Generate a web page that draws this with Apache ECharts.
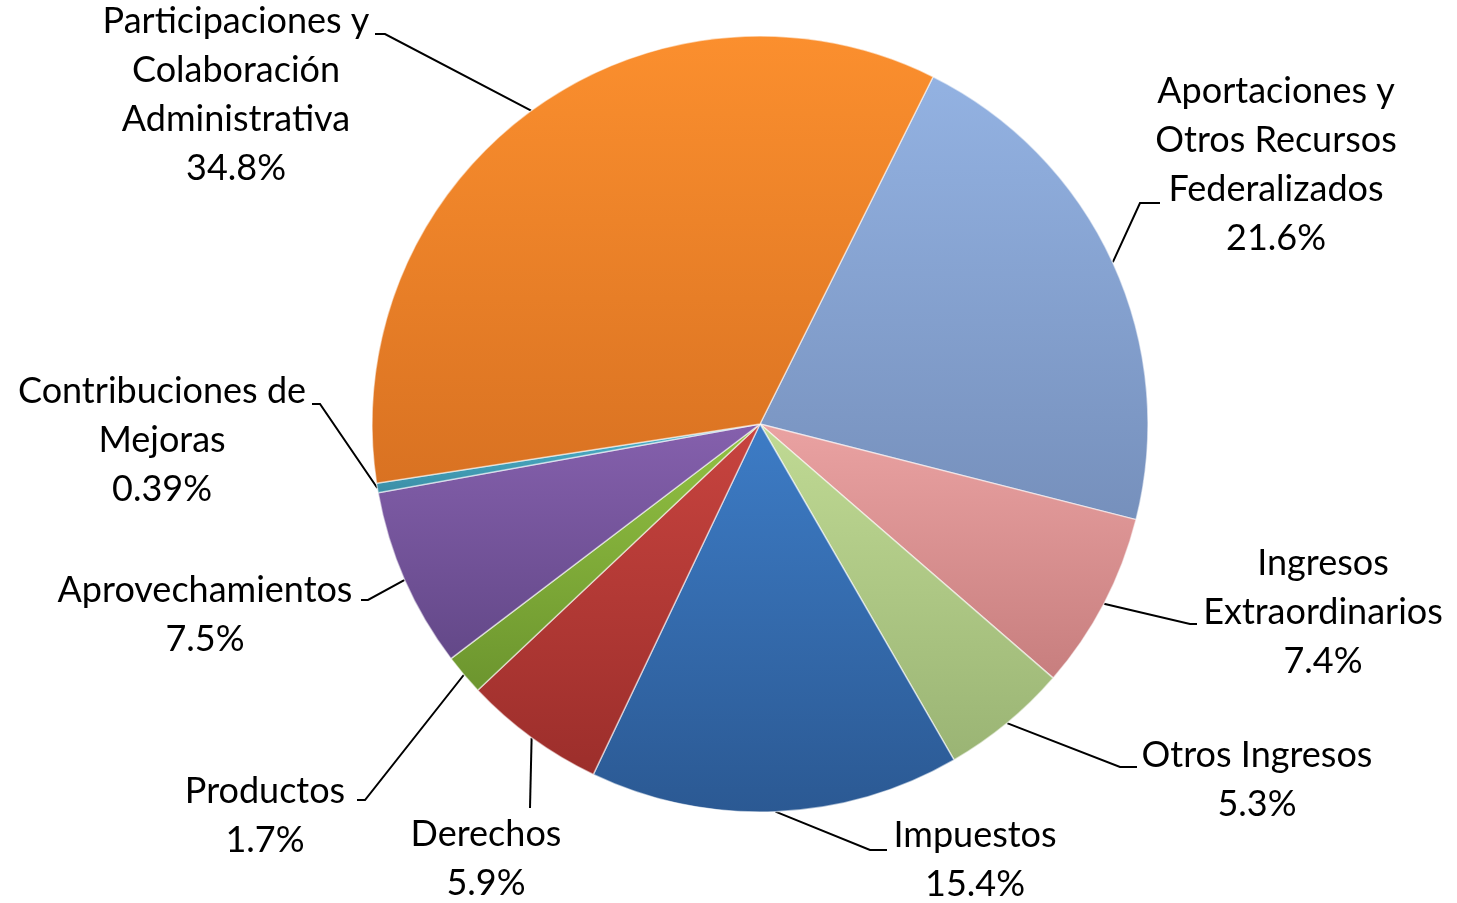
<!DOCTYPE html>
<html>
<head>
<meta charset="utf-8">
<script src="https://cdn.jsdelivr.net/npm/echarts@6/dist/echarts.min.js"></script>
<style>
  html, body { margin: 0; padding: 0; background: #fff; }
  #main { width: 1457px; height: 903px; }
</style>
</head>
<body>
<div id="main"></div>
<script>
// categorias, en el orden de las rebanadas (sentido horario)
const categorias = [
  "Aportaciones y\nOtros Recursos\nFederalizados",
  "Ingresos\nExtraordinarios",
  "Otros Ingresos",
  "Impuestos",
  "Derechos",
  "Productos",
  "Aprovechamientos",
  "Contribuciones de\nMejoras",
  "Participaciones y\nColaboración\nAdministrativa"
];
// porcentajes
const valores = [21.6, 7.4, 5.3, 15.4, 5.9, 1.7, 7.5, 0.39, 34.8];

// colores de cada rebanada: [claro arriba, oscuro abajo]
const colores = [
  ["#93b2e2", "#7690bc"],
  ["#eaa2a2", "#c77e7e"],
  ["#c0da94", "#9ab474"],
  ["#3d7cc6", "#2b5993"],
  ["#c8443f", "#9c2e2b"],
  ["#93c243", "#6c952e"],
  ["#8560ad", "#634888"],
  ["#4fb3cc", "#3a8ea6"],
  ["#fb8f2e", "#d97222"]
];

// posicion de las etiquetas: [centro x, y superior, codo x, codo y, fin x]
const posEtiquetas = [
  [1276, 67, 1140, 203, 1160],
  [1323, 539, 1190, 624, 1197],
  [1257, 731, 1120, 767, 1137],
  [975, 811, 870, 850, 887],
  [486, 810, 530, 808, 530],
  [265, 767, 365, 800, 357],
  [205, 566, 368, 600, 361],
  [162, 367, 320, 404, 312],
  [236, -3, 385, 34, 375]
];

const Chart = echarts.init(document.getElementById("main"));

const datos = valores.map((v, i) => ({
  value: v,
  name: categorias[i],
  itemStyle: {
    color: new echarts.graphic.LinearGradient(0, 0, 0, 1, [
      { offset: 0, color: colores[i][0] },
      { offset: 1, color: colores[i][1] }
    ])
  }
}));

const options = {
  animation: false,
  series: [
    {
      type: "pie",
      center: [760, 424],
      radius: 388,
      startAngle: 63.5,
      clockwise: true,
      avoidLabelOverlap: false,
      data: datos,
      itemStyle: {
        borderColor: "rgba(255,255,255,0.55)",
        borderWidth: 1.5
      },
      label: {
        show: true,
        position: "outer",
        alignTo: "none",
        color: "#000",
        fontFamily: "Lato",
        fontSize: 36,
        lineHeight: 49,
        align: "center",
        formatter: (p) => p.name + "\n" + p.value + "%"
      },
      labelLine: {
        show: true,
        length: 20,
        length2: 10,
        lineStyle: { color: "#000", width: 2 }
      },
      labelLayout: function (params) {
        const pos = posEtiquetas[params.dataIndex];
        const inicio = params.labelLinePoints
          ? params.labelLinePoints[0]
          : [pos[2], pos[3]];
        return {
          x: pos[0],
          y: pos[1],
          align: "center",
          verticalAlign: "top",
          labelLinePoints: [
            inicio,
            [pos[2], pos[3]],
            [pos[4], pos[3]]
          ]
        };
      }
    }
  ]
};

Chart.setOption(options);
</script>
</body>
</html>
